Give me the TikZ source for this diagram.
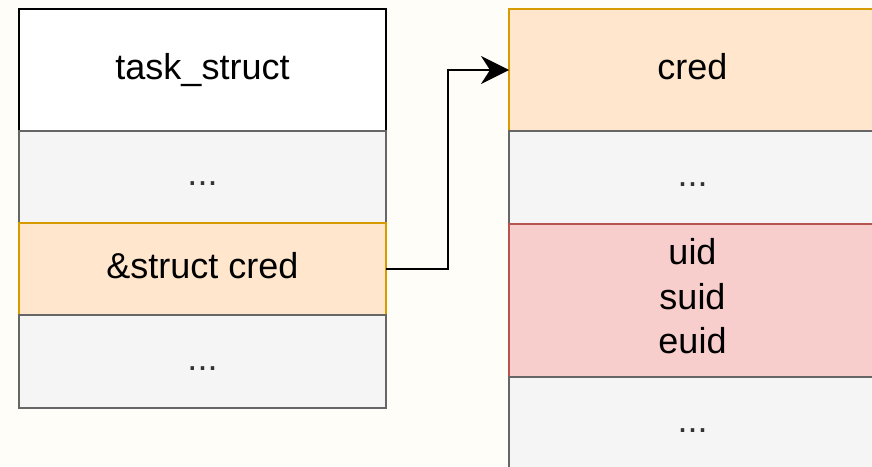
\documentclass[tikz,border=0pt]{standalone}
\usepackage{fontspec}
\setmainfont{Liberation Sans}
\usetikzlibrary{arrows.meta}
\definecolor{bgc}{HTML}{FFFDF8}
\definecolor{grayfill}{HTML}{F5F5F5}
\definecolor{graydraw}{HTML}{666666}
\definecolor{orfill}{HTML}{FFE6CC}
\definecolor{ordraw}{HTML}{D79B00}
\definecolor{redfill}{HTML}{F8CECC}
\definecolor{reddraw}{HTML}{B85450}
\definecolor{dots}{HTML}{333333}
\newcommand{\ph}{\vphantom{Ag}}
\tikzset{
  box/.style={rectangle, anchor=north west, inner sep=0pt, outer sep=0pt,
    minimum width=367pt, line width=2pt, align=center,
    font=\fontsize{36}{44.5}\selectfont},
  whitebox/.style={box, draw=black, fill=white},
  graybox/.style={box, draw=graydraw, fill=grayfill, text=dots},
  orbox/.style={box, draw=ordraw, fill=orfill},
  redbox/.style={box, draw=reddraw, fill=redfill},
  conn/.style={line width=2pt, -{Stealth[length=28pt, width=28pt, inset=9pt]}}
}
\begin{document}
\begin{tikzpicture}[x=1pt, y=-1pt]
\fill[bgc] (0,0) rectangle (872,466);
\useasboundingbox (0,0) rectangle (872,466);
\clip (0,0) rectangle (872,466);
% left column
\node[whitebox, minimum height=122pt] (ts) at (19,9) {\ph task\_struct};
\node[graybox, minimum height=92pt] (l1) at (19,131) {\ph...};
\node[orbox, minimum height=92pt] (l2) at (19,223) {\ph\&struct cred};
\node[graybox, minimum height=93pt] (l3) at (19,315) {\ph...};
% right column
\node[orbox, minimum height=122pt] (cred) at (509,9) {\ph cred};
\node[graybox, minimum height=93pt] (r1) at (509,131) {\ph...};
\node[redbox, minimum height=153pt] (r2) at (509,224) {};
\node[font=\fontsize{36}{44.5}\selectfont, align=center, inner sep=0pt] (r2t) at ([yshift=4pt]r2.center) {uid\\suid\\euid};
\node[graybox, minimum height=93pt] (r3) at (509,377) {\ph...};
% connector
\draw[conn] (l2.east) -- ++(62,0) |- (cred.west);
\end{tikzpicture}
\end{document}
